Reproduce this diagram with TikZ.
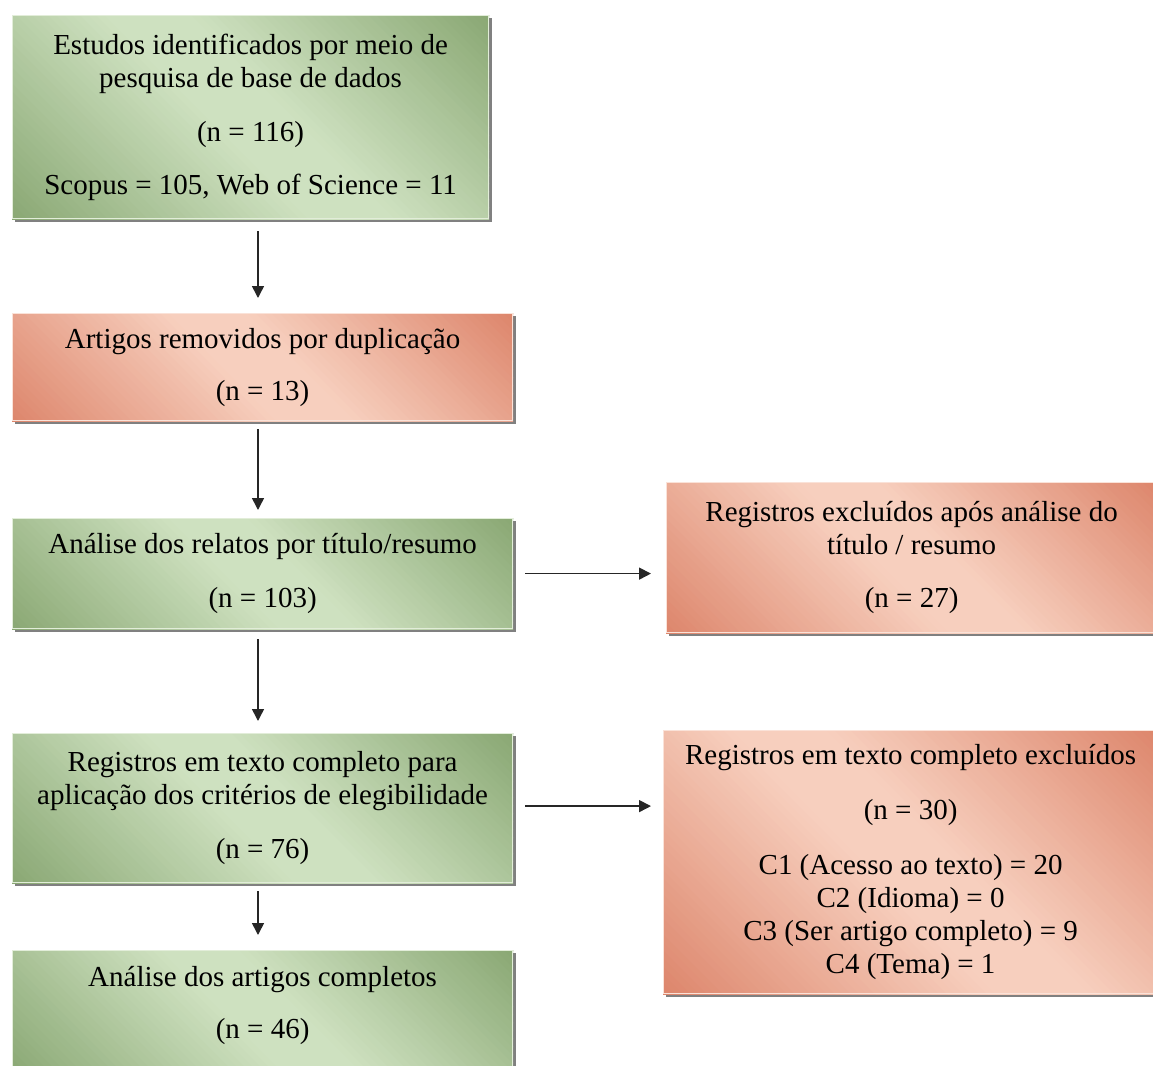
\documentclass[tikz,border=0pt]{standalone}
\usepackage{fontspec}
\setmainfont{Liberation Serif}
\usetikzlibrary{arrows.meta,backgrounds}

\definecolor{grdark}{RGB}{138,168,116}
\definecolor{grlight}{RGB}{206,225,192}
\definecolor{rddark}{RGB}{221,134,108}
\definecolor{rdlight}{RGB}{247,207,190}

\tikzset{
  box/.style={anchor=north west, inner sep=0pt, align=center,
    font=\fontsize{14.5}{16.5}\selectfont},
  greenbox/.style={box, draw=grlight!60!white, line width=.6pt},
  redbox/.style={box, draw=rdlight!60!white, line width=.6pt},
  boxshadow/.style={fill=black!50},
  flow/.style={-{Triangle[length=6pt,width=6pt]}, line width=.8pt, black!85}
}

\begin{document}
\begin{tikzpicture}[x=0.5pt, y=-0.5pt]
\useasboundingbox (0,0) rectangle (1153,1066);

% left column
\node[greenbox, minimum width=238pt, minimum height=101.5pt] (ident) at (12,15)
  {Estudos identificados por meio de\\ pesquisa de base de dados\\[10.5pt]
   (n = 116)\\[10pt] Scopus = 105, Web of Science = 11};
\node[redbox, minimum width=250pt, minimum height=53.5pt] (dup) at (12,313)
  {Artigos removidos por duplicação\\[9.5pt] (n = 13)};
\node[greenbox, minimum width=250pt, minimum height=55pt] (titulo) at (12,518)
  {Análise dos relatos por título/resumo\\[10.5pt] (n = 103)};
\node[greenbox, minimum width=250pt, minimum height=74.5pt] (texto) at (12,733)
  {Registros em texto completo para\\ aplicação dos critérios de elegibilidade\\[10.5pt] (n = 76)};
\node[greenbox, minimum width=250pt, minimum height=62pt] (final) at (12,950)
  {Análise dos artigos completos\\[9.5pt] (n = 46)\\[-6.5pt]\mbox{}};

% right column
\node[redbox, minimum width=245pt, minimum height=75pt] (exclA) at (666,482)
  {Registros excluídos após análise do\\ título / resumo\\[10pt] (n = 27)};
\node[redbox, minimum width=247pt, minimum height=131.5pt] (exclB) at (663,730)
  {Registros em texto completo excluídos\\[11pt] (n = 30)\\[11pt]
   C1 (Acesso ao texto) = 20\\ C2 (Idioma) = 0\\ C3 (Ser artigo completo) = 9\\ C4 (Tema) = 1};

% shadows and diagonal colour bands
\begin{scope}[on background layer]
\foreach \b/\w/\h/\dk/\lt in {ident/476/203/grdark/grlight, dup/500/107/rddark/rdlight,
    titulo/500/110/grdark/grlight, texto/500/149/grdark/grlight, final/500/124/grdark/grlight,
    exclA/490/150/rddark/rdlight, exclB/494/263/rddark/rdlight}{
  \fill[boxshadow] ([shift={(3,3)}]\b.south west) rectangle ([shift={(3,3)}]\b.north east);
  \begin{scope}
    \clip (\b.south west) rectangle (\b.north east);
    \foreach \s in {-300,-292,...,520}{
      \pgfmathtruncatemacro\m{max(0,min(100,115*(1-abs(2*(\s+4+\h)/(\w+\h)-1))))}
      \fill[\lt!\m!\dk] ([shift={(\s,0)}]\b.north west) -- ([shift={(\s+9,0)}]\b.north west)
        -- ([shift={(\s+309,300)}]\b.north west) -- ([shift={(\s+300,300)}]\b.north west) -- cycle;
    }
  \end{scope}
}
\end{scope}

% connectors
\coordinate (spine) at (258,0);
\draw[flow, shorten <=6pt, shorten >=7.5pt] (ident.south -| spine) -- (dup.north -| spine);
\draw[flow, shorten <=4pt, shorten >=4pt] (dup.south -| spine) -- (titulo.north -| spine);
\draw[flow, shorten <=5pt, shorten >=6pt] (titulo.south -| spine) -- (texto.north -| spine);
\draw[flow, shorten <=4pt, shorten >=7.5pt] (texto.south -| spine) -- (final.north -| spine);
\draw[flow, shorten <=6pt, shorten >=7.5pt] (titulo.east) -- (titulo.east -| exclA.west);
\draw[flow, shorten <=6pt, shorten >=6pt] ([yshift=1pt]texto.east) -- ([yshift=1pt]texto.east -| exclB.west);
\end{tikzpicture}
\end{document}
